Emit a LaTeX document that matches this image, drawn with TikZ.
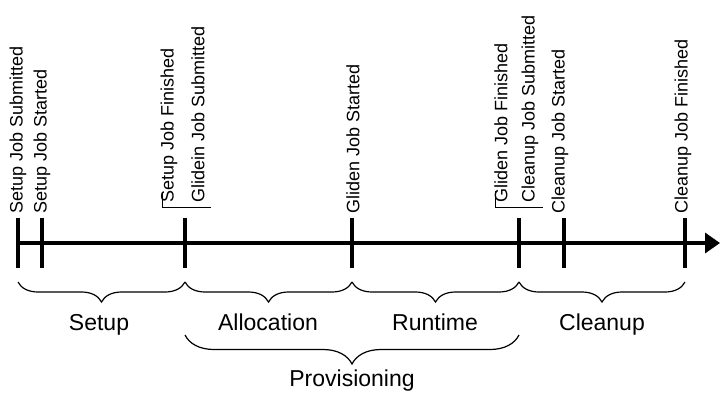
\documentclass[tikz,border=0pt]{standalone}
\usepackage{fontspec}
\setmainfont{Liberation Sans}
\usetikzlibrary{arrows.meta,decorations.pathreplacing}
\begin{document}
\begin{tikzpicture}[x=1pt,y=-1pt,
  evlabel/.style={rotate=90,anchor=west,inner sep=0pt,font=\fontsize{18}{20}\selectfont},
  phase/.style={anchor=base,inner sep=0pt,font=\fontsize{23}{26}\selectfont},
  tick/.style={line width=4pt},
  axis/.style={line width=3.5pt,-{Triangle[length=15pt,width=20pt]}},
  brace/.style={decorate,decoration={brace,amplitude=#1},line width=1.2pt},
  pairmark/.style={line width=0.9pt}]
\useasboundingbox (0,0) rectangle (720,392);
% tick coordinates
\coordinate (t1) at (18,243);
\coordinate (t2) at (42,243);
\coordinate (t3) at (185,243);
\coordinate (t4) at (352,243);
\coordinate (t5) at (519,243);
\coordinate (t6) at (564,243);
\coordinate (t7) at (685,243);
\coordinate (tend) at (720,243);
% axis
\draw[axis] (t1) -- (tend);
\foreach \t in {t1,t2,t3,t4,t5,t6,t7}
  \draw[tick] ([yshift=-25pt]\t) -- ([yshift=25pt]\t);
% event labels
\node[evlabel] (l1) at (18,214) {Setup Job Submitted};
\node[evlabel] (l2) at (42,214) {Setup Job Started};
\node[evlabel] (l3) at (169,203) {Setup Job Finished};
\node[evlabel] (l4) at (198,203) {Glidein Job Submitted};
\node[evlabel] (l5) at (353,214) {Gliden Job Started};
\node[evlabel] (l6) at (501,203) {Gliden Job Finished};
\node[evlabel] (l7) at (530,203) {Cleanup Job Submitted};
\node[evlabel] (l8) at (560,214) {Cleanup Job Started};
\node[evlabel] (l9) at (683,214) {Cleanup Job Finished};
% pair marks
\coordinate (m1a) at (162,193);
\coordinate (m1b) at (162,207);
\coordinate (m1c) at (211,207);
\draw[pairmark] (m1a) -- (m1b) -- (m1c);
\coordinate (m2a) at (495,191);
\coordinate (m2b) at (495,207);
\coordinate (m2c) at (543,207);
\draw[pairmark] (m2a) -- (m2b) -- (m2c);
% braces
\coordinate (b1) at (18,282);
\coordinate (b2) at (185,282);
\coordinate (b3) at (352,282);
\coordinate (b4) at (519,282);
\coordinate (b5) at (685,282);
\draw[brace=20pt] (b2) -- (b1);
\draw[brace=20pt] (b3) -- (b2);
\draw[brace=20pt] (b4) -- (b3);
\draw[brace=20pt] (b5) -- (b4);
\coordinate (p1) at (185,335);
\coordinate (p2) at (519,335);
\draw[brace=29pt] (p2) -- (p1);
% phase labels
\node[phase] (s1) at (99,330) {Setup};
\node[phase] (s2) at (268,330) {Allocation};
\node[phase] (s3) at (435,330) {Runtime};
\node[phase] (s4) at (602,330) {Cleanup};
\node[phase] (s5) at (352,386) {Provisioning};
\end{tikzpicture}
\end{document}
